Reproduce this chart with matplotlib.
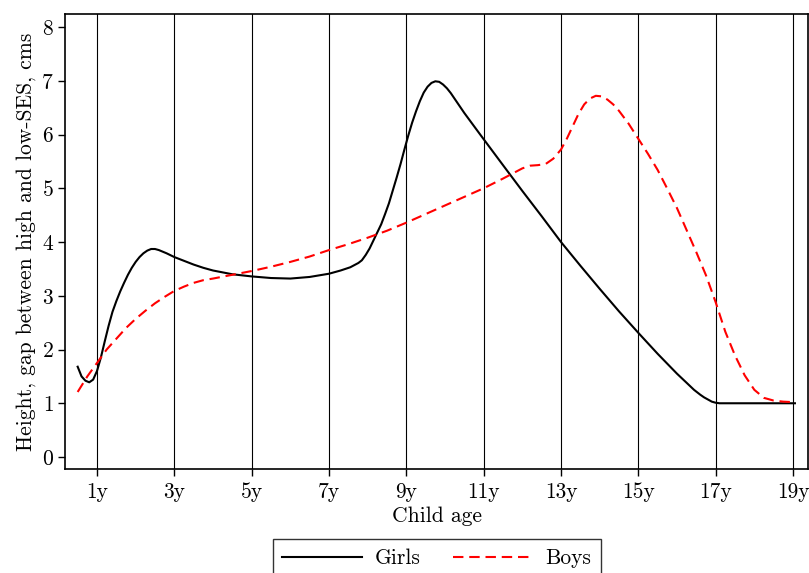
import matplotlib
matplotlib.use("Agg")
import matplotlib.pyplot as plt

plt.rcParams['font.family'] = 'serif'
plt.rcParams['font.serif'] = ['cmr10', 'DejaVu Serif']
plt.rcParams['axes.formatter.use_mathtext'] = True
plt.rcParams['mathtext.fontset'] = 'cm'

# Girls (age in years, gap in cm)
girls_age = [0.5, 0.6, 0.7, 0.8, 0.9, 1.0, 1.1, 1.2, 1.3, 1.4, 1.5, 1.6, 1.7, 1.8, 1.9,
             2.0, 2.1, 2.2, 2.3, 2.4, 2.5, 2.6, 2.7, 2.8, 2.9, 3.0, 3.25, 3.5, 3.75, 4.0,
             4.5, 5.0, 5.5, 6.0, 6.5, 7.0, 7.3, 7.55, 7.76, 7.85, 7.95, 8.05, 8.15, 8.25,
             8.35, 8.45, 8.55, 8.65, 8.75, 8.85, 8.95, 9.05, 9.15, 9.25, 9.35, 9.45, 9.55,
             9.65, 9.75, 9.85, 9.95, 10.05, 10.15, 10.5, 10.92, 11.5, 12.0, 12.5, 13.0,
             13.5, 14.0, 14.5, 15.0, 15.5, 16.0, 16.25, 16.44, 16.6, 16.7, 16.8, 16.9,
             17.0, 17.1, 17.5, 18.0, 18.5, 19.05]
girls_gap = [1.68, 1.50, 1.42, 1.39, 1.44, 1.60, 1.85, 2.15, 2.44, 2.70, 2.90, 3.08, 3.24,
             3.39, 3.52, 3.63, 3.72, 3.79, 3.84, 3.87, 3.87, 3.85, 3.82, 3.79, 3.755, 3.72,
             3.65, 3.58, 3.52, 3.47, 3.40, 3.36, 3.33, 3.32, 3.35, 3.41, 3.47, 3.53, 3.61,
             3.66, 3.76, 3.88, 4.03, 4.18, 4.33, 4.52, 4.72, 4.96, 5.20, 5.45, 5.72, 5.98,
             6.22, 6.43, 6.62, 6.78, 6.89, 6.96, 6.99, 6.98, 6.93, 6.86, 6.77, 6.40, 5.99,
             5.43, 4.95, 4.48, 4.00, 3.56, 3.13, 2.71, 2.31, 1.92, 1.55, 1.38, 1.25, 1.16,
             1.11, 1.07, 1.03, 1.01, 1.0, 1.0, 1.0, 1.0, 1.0]

# Boys (age in years, gap in cm)
boys_age = [0.5, 0.75, 1.0, 1.25, 1.5, 1.75, 2.0, 2.25, 2.5, 2.75, 3.0, 3.25, 3.5, 3.75, 4.0,
            4.5, 5.0, 5.5, 6.0, 6.5, 7.0, 7.5, 8.0, 8.5, 9.0, 9.5, 10.0, 10.5, 11.0, 11.5,
            12.0, 12.2, 12.4, 12.6, 12.8, 13.0, 13.15, 13.3, 13.45, 13.6, 13.75, 13.9,
            14.05, 14.2, 14.35, 14.5, 14.75, 15.0, 15.25, 15.5, 15.75, 16.0, 16.25, 16.5,
            16.75, 17.0, 17.25, 17.5, 17.75, 18.0, 18.25, 18.5, 18.75, 19.05]
boys_gap = [1.21, 1.50, 1.75, 2.00, 2.20, 2.40, 2.57, 2.72, 2.86, 2.98, 3.09, 3.17, 3.24, 3.29,
            3.32, 3.39, 3.46, 3.54, 3.63, 3.73, 3.85, 3.96, 4.08, 4.21, 4.36, 4.52, 4.68,
            4.84, 5.00, 5.18, 5.37, 5.42, 5.43, 5.45, 5.55, 5.72, 5.92, 6.15, 6.38, 6.56,
            6.67, 6.72, 6.71, 6.65, 6.56, 6.44, 6.20, 5.92, 5.64, 5.34, 4.99, 4.63, 4.22,
            3.81, 3.38, 2.88, 2.33, 1.89, 1.52, 1.25, 1.10, 1.05, 1.03, 1.02]

xticks = [1, 3, 5, 7, 9, 11, 13, 15, 17, 19]
xticklabels = ['1y', '3y', '5y', '7y', '9y', '11y', '13y', '15y', '17y', '19y']
yticks = [0, 1, 2, 3, 4, 5, 6, 7, 8]

fig = plt.figure(figsize=(8.09, 5.73), dpi=100)
ax = fig.add_axes([65/809, 1-469/573, (808-65)/809, (469-14)/573])

for xv in xticks:
    ax.axvline(xv, color='black', lw=0.8, zorder=1)

ax.plot(girls_age, girls_gap, color='black', lw=1.5, label='Girls', zorder=3,
        solid_joinstyle='round')
ax.plot(boys_age, boys_gap, color='red', lw=1.5, dashes=(5, 2.8), label='Boys', zorder=3)

ax.set_xlim(0.1725, 19.388)
ax.set_ylim(-0.223, 8.242)
ax.set_xticks(xticks)
ax.set_xticklabels(xticklabels)
ax.set_yticks(yticks)
ax.tick_params(axis='both', direction='out', length=5, width=1, labelsize=15.5, pad=3,
               color='black')
ax.tick_params(axis='x', pad=4.5)
for s in ax.spines.values():
    s.set_linewidth(1.2)
    s.set_color('black')

ax.set_xlabel('Child age', fontsize=15.5, labelpad=3.5)
ax.set_ylabel('Height, gap between high and low-SES, cms', fontsize=15.5, labelpad=4)

leg = fig.legend(loc='upper center', bbox_to_anchor=(437/809, 1-539/573), ncol=2,
                 fontsize=15.5, frameon=True, fancybox=False, edgecolor='black',
                 handlelength=3.7, handletextpad=0.6, columnspacing=1.5, borderpad=0.45,
                 borderaxespad=0)
leg.get_frame().set_linewidth(1.0)

fig.savefig('out.png', dpi=100)
